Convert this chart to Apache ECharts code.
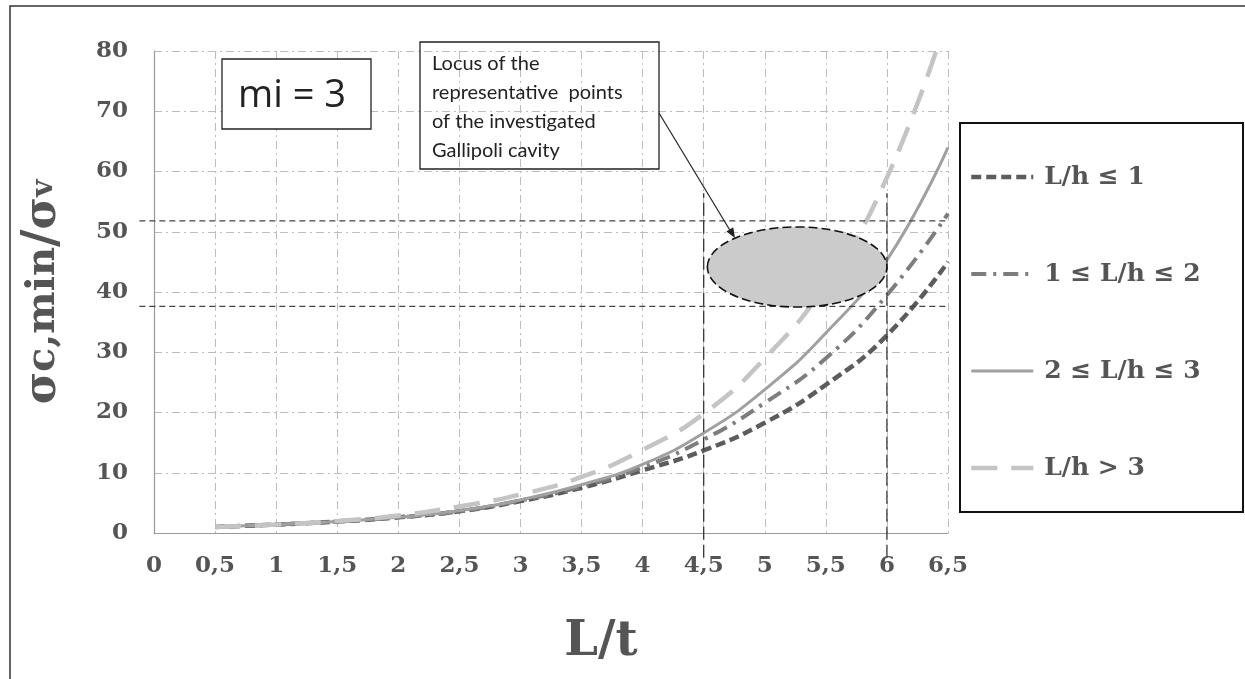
<!DOCTYPE html>
<html>
<head>
<meta charset="utf-8">
<title>σc,min/σv vs L/t (mi = 3)</title>
<script src="https://cdn.jsdelivr.net/npm/echarts@6/dist/echarts.min.js"></script>
<style>
  html, body { margin: 0; padding: 0; background: #fff; }
  #chart { width: 1245px; height: 679px; }
</style>
</head>
<body>
<div id="chart"></div>
<script>
  // L/t values where the curves were read
  var lOverT = [0.5, 1, 1.5, 2, 2.5, 3, 3.5, 4, 4.5, 5, 5.5, 6, 6.5];
  // sigma_c,min / sigma_v for each L/h class
  var lhUpTo1 = [1.0, 1.4, 1.9, 2.6, 3.6, 5.3, 7.5, 10.4, 13.7, 18.3, 24.6, 32.8, 45.0];
  var lh1to2  = [1.0, 1.4, 1.9, 2.6, 3.6, 5.4, 7.7, 10.9, 15.5, 21.6, 29.0, 39.5, 53.0];
  var lh2to3  = [1.0, 1.4, 1.9, 2.6, 3.7, 5.5, 8.0, 11.4, 16.6, 23.8, 33.2, 45.3, 64.0];
  var lhOver3 = [1.0, 1.4, 2.0, 2.9, 4.4, 6.4, 9.3, 13.8, 19.8, 29.0, 41.3, 59.0, 86.0];
  var seriesNames = ['L/h ≤ 1', '1 ≤ L/h ≤ 2', '2 ≤ L/h ≤ 3', 'L/h > 3'];

  // locus of the Gallipoli cavity (L/t range and stress ratio range)
  var locusLt = [4.53, 6.0];
  var locusRatio = [37.5, 50.8];
  // dashed guide lines
  var guideLt = [4.5, 6];          // vertical guides
  var guideLtFrom = [-4.1, 56.4];  // ratio span of the vertical guides
  var guideRatio = [37.6, 51.8];   // horizontal guides
  var guideRatioFrom = [-0.12, 6.5];

  var serifBold = '"DejaVu Serif", serif';
  var labelGray = '#555';

  function pairs(ys) {
    return lOverT.map(function (x, i) { return [x, ys[i]]; });
  }

  var vGuides = guideLt.map(function (x) { return [x, guideLtFrom[0], x, guideLtFrom[1]]; });
  var hGuides = guideRatio.map(function (y) { return [guideRatioFrom[0], y, guideRatioFrom[1], y]; });

  function guideRender(dash, color) {
    return function (params, api) {
      var a = api.coord([api.value(0), api.value(1)]);
      var b = api.coord([api.value(2), api.value(3)]);
      return {
        type: 'line',
        shape: { x1: a[0], y1: a[1], x2: b[0], y2: b[1] },
        style: { stroke: color, lineWidth: 1.3, lineDash: dash }
      };
    };
  }

  function curve(name, ys, color, width, dash) {
    return {
      name: name,
      type: 'line',
      data: pairs(ys),
      smooth: 0.5,
      symbol: 'none',
      lineStyle: { color: color, width: width, type: dash },
      itemStyle: { color: color },
      z: 3
    };
  }

  var chart = echarts.init(document.getElementById('chart'));
  var option = {
    backgroundColor: '#fff',
    animation: false,
    grid: { left: 154, right: 297, top: 51, bottom: 146 },
    xAxis: {
      type: 'value',
      min: 0, max: 6.5, interval: 0.5,
      name: 'L/t',
      nameLocation: 'middle',
      nameGap: 86,
      nameTextStyle: { fontFamily: serifBold, fontWeight: 'bold', fontSize: 48, color: labelGray, padding: [0, 0, 0, 100] },
      axisLine: { lineStyle: { color: '#999', width: 1.2 } },
      axisTick: { show: false },
      axisLabel: {
        margin: 22,
        fontFamily: serifBold, fontWeight: 'bold', fontSize: 23, color: labelGray,
        formatter: function (v) { return String(v).replace('.', ','); }
      },
      splitLine: { show: true, lineStyle: { color: '#bdbdbd', width: 1, type: [8, 4, 2, 4] } }
    },
    yAxis: {
      type: 'value',
      min: 0, max: 80, interval: 10,
      name: '{s|σ}{c|c,min}{sl|/}{s|σ}{v|v}',
      nameLocation: 'middle',
      nameRotate: 90,
      nameGap: 86,
      nameTextStyle: {
        color: labelGray,
        rich: {
          s: { fontFamily: serifBold, fontWeight: 'bold', fontSize: 44, color: labelGray },
          c: { fontFamily: serifBold, fontWeight: 'bold', fontSize: 40, color: labelGray },
          sl: { fontFamily: serifBold, fontWeight: 'bold', fontSize: 48, color: labelGray },
          v: { fontFamily: serifBold, fontWeight: 'bold', fontSize: 30, color: labelGray }
        }
      },
      axisLine: { show: true, lineStyle: { color: '#999', width: 1.2 } },
      axisTick: { show: false },
      axisLabel: { margin: 26, fontFamily: serifBold, fontWeight: 'bold', fontSize: 23, color: labelGray },
      splitLine: { show: true, lineStyle: { color: '#bdbdbd', width: 1, type: [8, 4, 2, 4] } }
    },
    legend: {
      data: seriesNames,
      orient: 'vertical',
      left: 964,
      top: 157,
      itemWidth: 62,
      itemHeight: 14,
      itemGap: 67,
      selectedMode: false,
      lineStyle: { width: 'inherit' },
      itemStyle: { opacity: 0 },
      textStyle: { fontFamily: serifBold, fontWeight: 'bold', fontSize: 25, color: labelGray, lineHeight: 30, padding: [0, 0, 0, 6] }
    },
    graphic: [
      { type: 'rect', z: 0, silent: true,
        shape: { x: 10, y: 6, width: 1260, height: 700 },
        style: { fill: 'none', stroke: '#333', lineWidth: 1.5 } },
      { type: 'rect', z: 1, silent: true,
        shape: { x: 960, y: 123, width: 283, height: 389 },
        style: { fill: '#fff', stroke: '#111', lineWidth: 2 } },
      { type: 'rect', z: 10, silent: true,
        shape: { x: 222, y: 59, width: 149, height: 70 },
        style: { fill: '#fff', stroke: '#222', lineWidth: 1.3 } },
      { type: 'text', z: 11, silent: true, x: 292, y: 96,
        style: { text: 'mi = 3', font: '38px "Open Sans", sans-serif', fill: '#222', align: 'center', verticalAlign: 'middle' } },
      { type: 'rect', z: 10, silent: true,
        shape: { x: 420, y: 42, width: 239, height: 127 },
        style: { fill: 'none', stroke: '#222', lineWidth: 1.3 } },
      { type: 'text', z: 11, silent: true, x: 432, y: 49,
        style: {
          text: 'Locus of the\nrepresentative  points\nof the investigated\nGallipoli cavity',
          font: '20px Lato, sans-serif', lineHeight: 29, fill: '#222', align: 'left', verticalAlign: 'top'
        } },
      { type: 'line', z: 11, silent: true,
        shape: { x1: 659, y1: 113, x2: 731, y2: 232 },
        style: { stroke: '#222', lineWidth: 1.2 } },
      { type: 'polygon', z: 11, silent: true,
        shape: { points: [[735, 238], [726.4, 231.5], [733.2, 227.3]] },
        style: { fill: '#222' } }
    ],
    series: [
      {
        type: 'custom',
        data: hGuides,
        renderItem: guideRender([6, 4], '#444'),
        z: 4, silent: true
      },
      {
        type: 'custom',
        data: vGuides,
        renderItem: guideRender([13, 5], '#333'),
        z: 4, silent: true
      },
      curve(seriesNames[0], lhUpTo1, '#5c5c5c', 4.5, [10, 5]),
      curve(seriesNames[1], lh1to2, '#7d7d7d', 4, [15, 7, 3, 7]),
      curve(seriesNames[2], lh2to3, '#a0a0a0', 3, 'solid'),
      curve(seriesNames[3], lhOver3, '#c4c4c4', 4.5, [26, 14]),
      {
        type: 'custom',
        data: [[locusLt[0], locusRatio[0], locusLt[1], locusRatio[1]]],
        renderItem: function (params, api) {
          var a = api.coord([api.value(0), api.value(1)]);
          var b = api.coord([api.value(2), api.value(3)]);
          return {
            type: 'ellipse',
            shape: { cx: (a[0] + b[0]) / 2, cy: (a[1] + b[1]) / 2, rx: Math.abs(b[0] - a[0]) / 2, ry: Math.abs(b[1] - a[1]) / 2 },
            style: { fill: '#cbcbcb', stroke: '#111', lineWidth: 1.6, lineDash: [9, 4] }
          };
        },
        z: 6, silent: true
      }
    ]
  };
  chart.setOption(option);
</script>
</body>
</html>
